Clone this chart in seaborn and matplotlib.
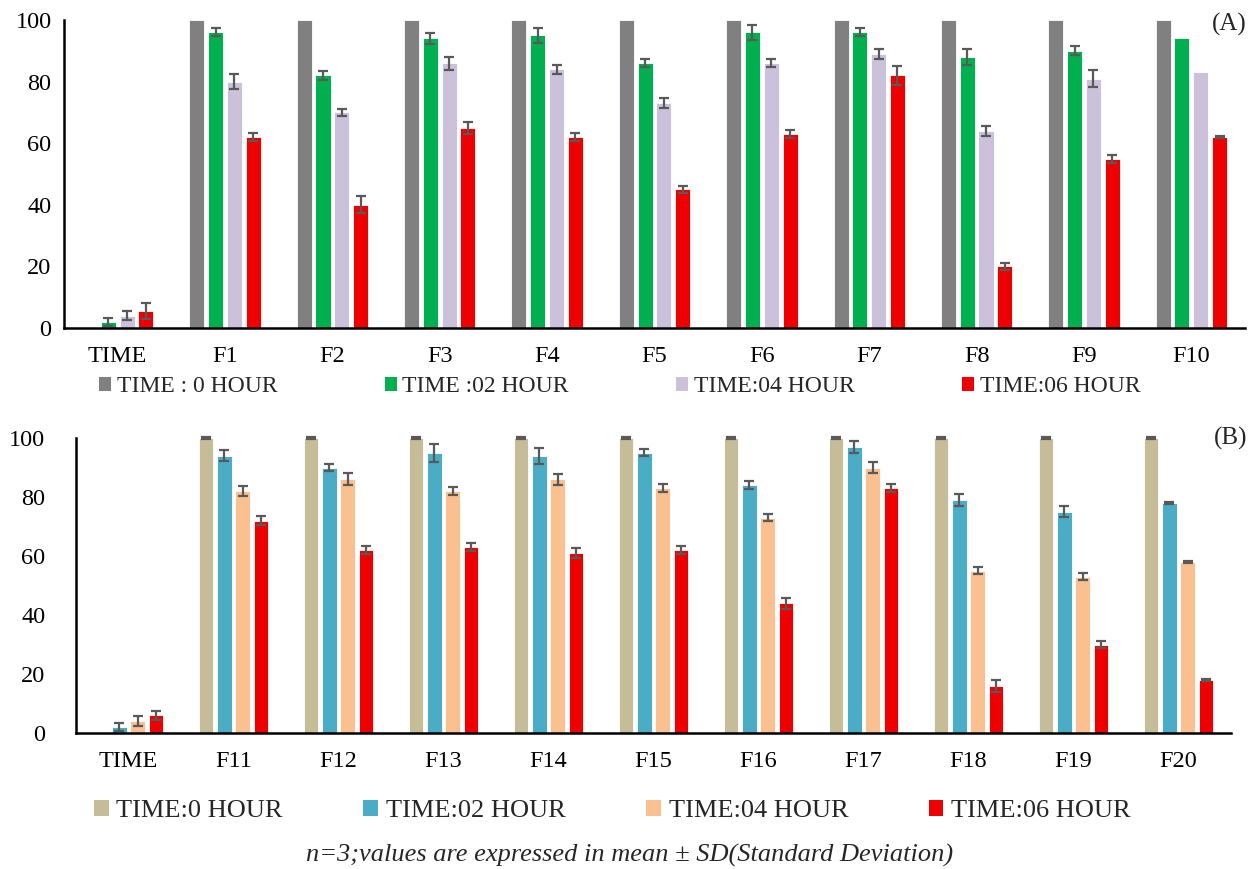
import numpy as np
import pandas as pd
import matplotlib
matplotlib.use("Agg")
import matplotlib.pyplot as plt
from matplotlib.patches import Patch
import seaborn as sns

# ---------------- data ----------------
cats_a = ["TIME", "F1", "F2", "F3", "F4", "F5", "F6", "F7", "F8", "F9", "F10"]
cats_b = ["TIME", "F11", "F12", "F13", "F14", "F15", "F16", "F17", "F18", "F19", "F20"]

series_a = ["TIME : 0 HOUR", "TIME :02 HOUR", "TIME:04 HOUR", "TIME:06 HOUR"]
series_b = ["TIME:0 HOUR", "TIME:02 HOUR", "TIME:04 HOUR", "TIME:06 HOUR"]

a0 = [0, 100, 100, 100, 100, 100, 100, 100, 100, 100, 100]
a2 = [2, 96, 82, 94, 95, 86, 96, 96, 88, 90, 94]
a4 = [4, 80, 70, 86, 84, 73, 86, 89, 64, 81, 83]
a6 = [5.5, 62, 40, 65, 62, 45, 63, 82, 20, 55, 62]
sd_a0 = [0, 0, 0, 0, 0, 0, 0, 0, 0, 0, 0]
sd_a2 = [1.4, 1.3, 1.4, 1.7, 2.4, 1.3, 2.5, 1.3, 2.7, 1.5, 0]
sd_a4 = [1.4, 2.4, 1.2, 2.1, 1.4, 1.6, 1.4, 1.5, 1.5, 2.7, 0]
sd_a6 = [2.7, 1.3, 2.8, 2.0, 1.3, 1.2, 1.2, 3.0, 1.2, 1.3, 0.3]

b0 = [0, 100, 100, 100, 100, 100, 100, 100, 100, 100, 100]
b2 = [2, 94, 90, 95, 94, 95, 84, 97, 79, 75, 78]
b4 = [4, 82, 86, 82, 86, 83, 73, 90, 55, 53, 58]
b6 = [6, 72, 62, 63, 61, 62, 44, 83, 16, 30, 18]
sd_b0 = [0, 0.5, 0.5, 0.5, 0.5, 0.5, 0.5, 0.5, 0.5, 0.5, 0.5]
sd_b2 = [1.3, 1.8, 1.2, 3.1, 2.7, 1.2, 1.3, 2.1, 1.9, 1.8, 0.3]
sd_b4 = [1.6, 1.8, 2.0, 1.3, 1.8, 1.3, 1.3, 1.8, 1.2, 1.3, 0.3]
sd_b6 = [1.5, 1.6, 1.3, 1.3, 1.7, 1.4, 1.9, 1.4, 2.1, 1.2, 0.3]

colors_a = ["#808080", "#00B050", "#CCC1DA", "#EE0000"]
colors_b = ["#C4BD97", "#4BACC6", "#FAC090", "#EE0000"]

footnote = "n=3;values are expressed in mean \u00b1 SD(Standard Deviation)"

# ---------------- style ----------------
sns.set_theme(style="white")
plt.rcParams["font.family"] = ["Liberation Serif", "DejaVu Serif"]
plt.rcParams["font.size"] = 17.5

fig = plt.figure(figsize=(12.6, 8.69), dpi=100)
W, H = 1260, 869


def axrect(x0, y0, x1, y1):
    return [x0 / W, 1 - y1 / H, (x1 - x0) / W, (y1 - y0) / H]


ax_a = fig.add_axes(axrect(64, 20, 1245, 328))
ax_b = fig.add_axes(axrect(76, 438, 1231, 733))


def panel(ax, cats, series, vals, sds, colors):
    rows = []
    for s, v in zip(series, vals):
        for c, y in zip(cats, v):
            rows.append({"cat": c, "series": s, "value": y})
    df = pd.DataFrame(rows)
    sns.barplot(data=df, x="cat", y="value", hue="series", order=cats,
                hue_order=series, palette=colors, width=0.7, gap=0.2,
                errorbar=None, ax=ax, legend=False, edgecolor="white",
                linewidth=0.6, saturation=1)
    for cont, sd in zip(ax.containers, sds):
        for bar, e in zip(cont, sd):
            if e <= 0:
                continue
            xc = bar.get_x() + bar.get_width() / 2
            ax.errorbar(xc, bar.get_height(), yerr=e, color="#595959",
                        lw=1.6, capsize=3.8, capthick=1.6, clip_on=False,
                        zorder=5)
    ax.set_xlim(-0.5, len(cats) - 0.5)
    ax.set_ylim(0, 100)
    ax.set_yticks([0, 20, 40, 60, 80, 100])
    ax.set_xlabel("")
    ax.set_ylabel("")
    for side in ["top", "right"]:
        ax.spines[side].set_visible(False)
    for side in ["left", "bottom"]:
        ax.spines[side].set_color("black")
        ax.spines[side].set_linewidth(1.8)
    ax.tick_params(axis="both", length=0, labelsize=17.5, colors="black")
    ax.tick_params(axis="x", pad=13)


panel(ax_a, cats_a, series_a, [a0, a2, a4, a6],
      [sd_a0, sd_a2, sd_a4, sd_a6], colors_a)
panel(ax_b, cats_b, series_b, [b0, b2, b4, b6],
      [sd_b0, sd_b2, sd_b4, sd_b6], colors_b)
ax_a.tick_params(axis="y", pad=9)
ax_b.tick_params(axis="y", pad=22)

ax_a.text(1.0017, 0.987, "(A)", transform=ax_a.transAxes, ha="right",
          va="center", fontsize=18)
ax_b.text(1.0139, 0.997, "(B)", transform=ax_b.transAxes, ha="right",
          va="center", fontsize=18)

# legends
h_a = [Patch(facecolor=c, edgecolor="none") for c in colors_a]
fig.legend(h_a, series_a, loc="center left", bbox_to_anchor=(99 / W, 1 - 387 / H),
           ncol=4, frameon=False, fontsize=17, handlelength=0.5,
           handleheight=0.5, handletextpad=0.25, columnspacing=4.55,
           borderpad=0, borderaxespad=0)

h_b = [Patch(facecolor=c, edgecolor="none") for c in colors_b]
fig.legend(h_b, series_b, loc="center left", bbox_to_anchor=(94 / W, 1 - 811 / H),
           ncol=4, frameon=False, fontsize=19, handlelength=0.55,
           handleheight=0.55, handletextpad=0.3, columnspacing=3.05,
           borderpad=0, borderaxespad=0)

fig.text(630 / W, 1 - 855 / H, footnote, ha="center", va="center",
         fontsize=19, style="italic")

fig.savefig("out.png", dpi=100)
